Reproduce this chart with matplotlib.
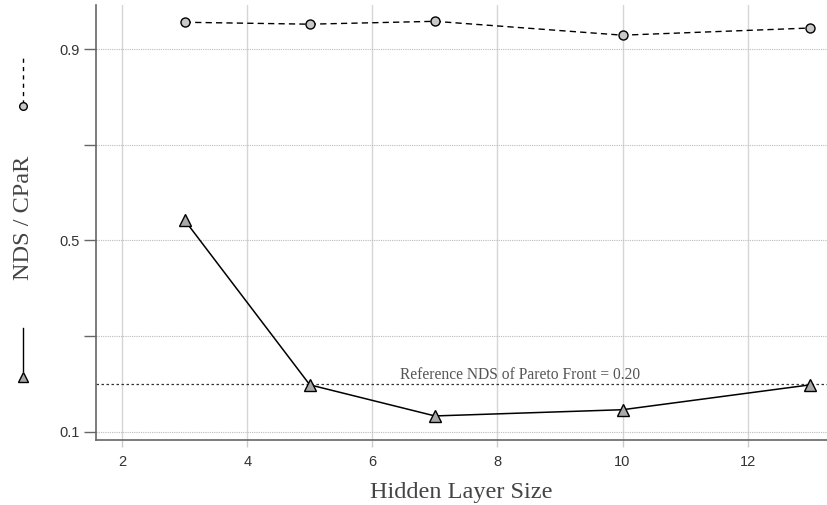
import matplotlib
matplotlib.use("Agg")
import matplotlib.pyplot as plt
from matplotlib.lines import Line2D

# ==== data ====
hidden = [3, 5, 7, 10, 13]
cpar = [0.956, 0.952, 0.958, 0.929, 0.944]
nds = [0.542, 0.198, 0.133, 0.146, 0.198]
ref_nds = 0.20
x_ticks = [2, 4, 6, 8, 10, 12]
y_ticks = [0.1, 0.3, 0.5, 0.7, 0.9]
y_labels = ["0.1", "", "0.5", "", "0.9"]

serif = ["Liberation Serif", "DejaVu Serif"]
sans = ["Liberation Sans", "DejaVu Sans"]
grey = "#666666"

fig = plt.figure(figsize=(8.27, 5.05), dpi=100)
ax = fig.add_axes([0.116, 0.129, 0.884, 0.861])

ax.plot(hidden, cpar, color="black", linestyle=(0, (4.5, 3)), linewidth=1,
        marker="o", markersize=6.5, markerfacecolor="#c8c8c8",
        markeredgecolor="black", markeredgewidth=1, zorder=3)
ax.plot(hidden, nds, color="black", linestyle="-", linewidth=1.1,
        marker="^", markersize=8.5, markerfacecolor="#a8a8a8",
        markeredgecolor="black", markeredgewidth=1, zorder=3)

ax.axhline(ref_nds, color="#333333", linestyle=(0, (2, 2)), linewidth=0.9, zorder=2)
ax.text(6.45, ref_nds + 0.002, f"Reference NDS of Pareto Front = {ref_nds:.2f}",
        family=serif, fontsize=11.2, color="#555555", ha="left", va="bottom")

ax.set_xlim(1.58, 13.27)
ax.set_ylim(0.083, 0.992)
ax.set_xticks(x_ticks)
ax.set_yticks(y_ticks)
ax.set_yticklabels(y_labels)

ax.grid(axis="x", color="#d6d6d6", linestyle="-", linewidth=1)
ax.grid(axis="y", color="#bbbbbb", linestyle=(0, (1, 1)), linewidth=0.8)
ax.set_axisbelow(True)

for s in ["top", "right"]:
    ax.spines[s].set_visible(False)
for s in ["left", "bottom"]:
    ax.spines[s].set_color(grey)
    ax.spines[s].set_linewidth(1.2)

ax.tick_params(axis="y", length=9, width=1, color=grey, labelcolor="#333333",
               labelsize=10.5, pad=3)
ax.tick_params(axis="x", length=5, width=1, color="#cccccc", labelcolor="#333333",
               labelsize=10.5, pad=6)
for lab in ax.get_xticklabels() + ax.get_yticklabels():
    lab.set_family(sans)

ax.set_xlabel("Hidden Layer Size", family=serif, fontsize=17.5, color="#444444", labelpad=9)
fig.text(0.0285, 0.568, "NDS / CPaR", family=serif, fontsize=17.5, color="#444444",
         rotation=90, ha="center", va="center")

# legend glyphs beside the y label
lx = 0.0275
fig.add_artist(Line2D([lx, lx], [0.795, 0.885], color="black", linestyle=(0, (3, 3)),
                      linewidth=1, transform=fig.transFigure))
fig.add_artist(Line2D([lx], [0.790], marker="o", markersize=5.5, markerfacecolor="#c8c8c8",
                      markeredgecolor="black", transform=fig.transFigure))
fig.add_artist(Line2D([lx, lx], [0.265, 0.350], color="black", linestyle="-",
                      linewidth=1, transform=fig.transFigure))
fig.add_artist(Line2D([lx], [0.254], marker="^", markersize=7.5, markerfacecolor="#a8a8a8",
                      markeredgecolor="black", transform=fig.transFigure))

fig.savefig("out.png", dpi=100)
